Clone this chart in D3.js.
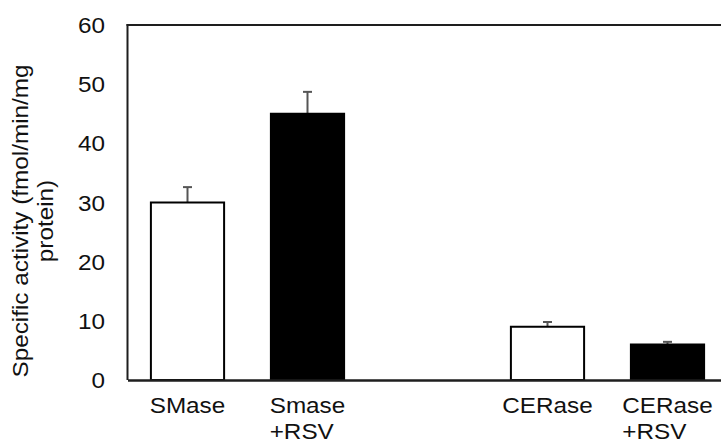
<!DOCTYPE html>
<html>
<head>
<meta charset="utf-8">
<script src="https://cdn.jsdelivr.net/npm/d3@7"></script>
<style>
  body { margin: 0; background: #fff; }
  svg { display: block; font-family: "Liberation Sans", Arial, sans-serif; }
</style>
</head>
<body>
<div id="chart"></div>
<script>
// data
const categories = ["SMase", "Smase+RSV", "gap", "CERase", "CERase+RSV"];
const labelLines = [["SMase"], ["Smase", "+RSV"], [], ["CERase"], ["CERase", "+RSV"]];
const treatment = ["control", "RSV", null, "control", "RSV"];
const values = [30, 45, null, 9, 6];
const errors = [2.6, 3.7, null, 0.8, 0.45];
const yTicks = [0, 10, 20, 30, 40, 50, 60];
const yTitle = ["Specific activity (fmol/min/mg", "protein)"];

const width = 721, height = 442;
const margin = { top: 25, right: -6.5, bottom: 62, left: 127.5 };
const sx = 1.08; // the source text is a bit wide
const fontSize = 22.5;
const lineColor = "#1e1e1e";

const svg = d3.select("#chart")
  .append("svg")
  .attr("width", width)
  .attr("height", height);

const x = d3.scaleBand()
  .domain(categories)
  .range([margin.left, width - margin.right])
  .paddingInner(0.39)
  .paddingOuter(0.195);

const y = d3.scaleLinear()
  .domain([0, 60])
  .range([height - margin.bottom, margin.top]);

const fill = d3.scaleOrdinal()
  .domain(["control", "RSV"])
  .range(["#ffffff", "#000000"]);

const rows = categories.map((c, i) => ({
  key: c, lines: labelLines[i], group: treatment[i], value: values[i], err: errors[i]
}));
const bars = rows.filter(d => d.value != null);

// y tick labels
svg.append("g")
  .selectAll("text")
  .data(yTicks)
  .enter()
  .append("text")
  .attr("transform", d => `translate(${margin.left - 22.5},${y(d)}) scale(${sx},1)`)
  .attr("dy", "0.36em")
  .attr("text-anchor", "end")
  .attr("font-size", fontSize)
  .attr("fill", "#111")
  .text(d => d);

// frame: left and top lines
svg.append("line")
  .attr("x1", margin.left).attr("x2", margin.left)
  .attr("y1", y(60) - 1).attr("y2", y(0))
  .attr("stroke", lineColor).attr("stroke-width", 2);
svg.append("line")
  .attr("x1", margin.left - 1).attr("x2", width)
  .attr("y1", y(60)).attr("y2", y(60))
  .attr("stroke", lineColor).attr("stroke-width", 2);

// error bars (upper only)
const eb = svg.append("g")
  .attr("stroke", "#555")
  .attr("stroke-width", 2);
eb.selectAll(".stem")
  .data(bars)
  .enter()
  .append("line")
  .attr("x1", d => x(d.key) + x.bandwidth() / 2)
  .attr("x2", d => x(d.key) + x.bandwidth() / 2)
  .attr("y1", d => y(d.value))
  .attr("y2", d => y(d.value + d.err));
eb.selectAll(".cap")
  .data(bars)
  .enter()
  .append("line")
  .attr("x1", d => x(d.key) + x.bandwidth() / 2 - 4.5)
  .attr("x2", d => x(d.key) + x.bandwidth() / 2 + 4.5)
  .attr("y1", d => y(d.value + d.err))
  .attr("y2", d => y(d.value + d.err));

// bars
svg.append("g")
  .selectAll("rect")
  .data(bars)
  .enter()
  .append("rect")
  .attr("x", d => x(d.key))
  .attr("y", d => y(d.value))
  .attr("width", x.bandwidth())
  .attr("height", d => y(0) - y(d.value))
  .attr("fill", d => fill(d.group))
  .attr("stroke", "#000")
  .attr("stroke-width", 2);

// bottom axis line
svg.append("g")
  .attr("transform", `translate(0,${y(0)})`)
  .call(d3.axisBottom(x).tickSize(0).tickSizeOuter(0).tickFormat(""))
  .call(g => g.select(".domain").attr("stroke", lineColor).attr("stroke-width", 2.5));

// category labels: lines left aligned, block centred on the band
const lab = svg.append("g")
  .selectAll("g")
  .data(rows.filter(d => d.lines.length))
  .enter()
  .append("g");
lab.each(function (d) {
  const g = d3.select(this);
  const ts = d.lines.map((t, j) =>
    g.append("text")
      .attr("font-size", fontSize)
      .attr("fill", "#111")
      .text(t));
  const w = d3.max(ts, t => t.node().getComputedTextLength()) * sx;
  const x0 = x(d.key) + x.bandwidth() / 2 - w / 2;
  ts.forEach((t, j) => t.attr("transform", `translate(${x0},${y(0) + 33 + j * 26}) scale(${sx},1)`));
});

// y axis title
const cy = 221;
svg.append("g")
  .selectAll("text")
  .data(yTitle)
  .enter()
  .append("text")
  .attr("transform", (d, i) => `translate(${28 + i * 25},${cy}) rotate(-90) scale(${sx},1)`)
  .attr("text-anchor", "middle")
  .attr("font-size", fontSize)
  .attr("fill", "#111")
  .text(d => d);
</script>
</body>
</html>
